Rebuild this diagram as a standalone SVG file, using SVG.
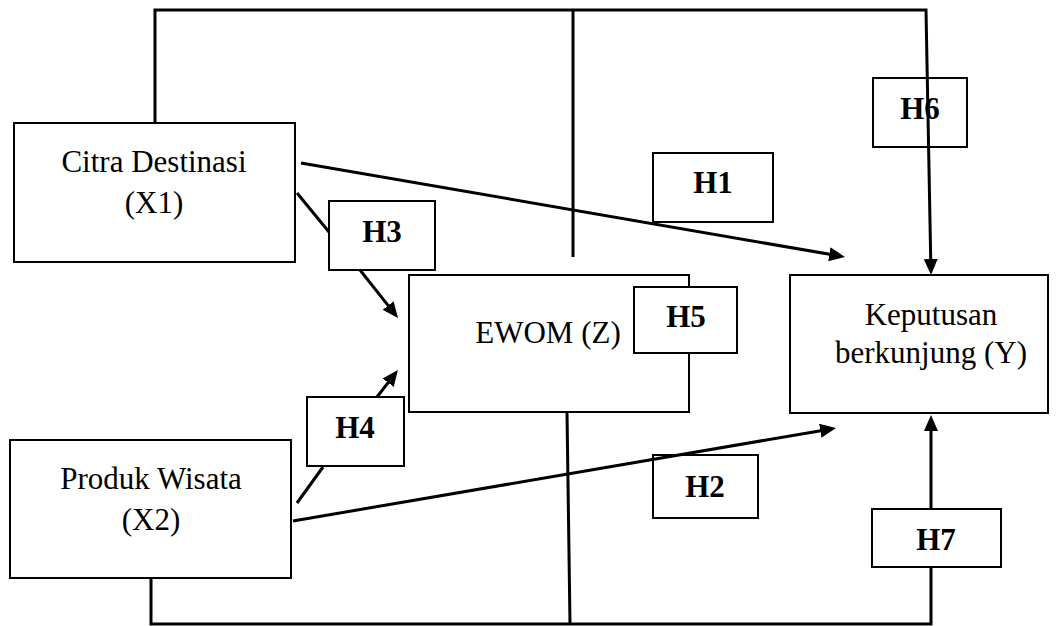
<svg xmlns="http://www.w3.org/2000/svg" width="1063" height="626" viewBox="0 0 1063 626">
<style>
.box{fill:#fff;stroke:#000;stroke-width:2}
.t{font-family:"Liberation Serif","Times New Roman",serif;font-size:31px;fill:#000;text-anchor:middle}
.h{font-weight:bold}
.c{fill:none;stroke:#000;stroke-width:3}
</style>
<defs>
<marker id="ah" markerUnits="userSpaceOnUse" markerWidth="16" markerHeight="14" refX="5" refY="7" orient="auto">
<path d="M0,0 L16,7 L0,14 z" fill="#000"/>
</marker>
</defs>
<rect width="1063" height="626" fill="#fff"/>
<g id="citra"><rect class="box" x="14" y="123" width="281" height="139"/><text class="t" x="154" y="172">Citra Destinasi</text><text class="t" x="154" y="213">(X1)</text></g>
<g id="produk"><rect class="box" x="10" y="440" width="281" height="138"/><text class="t" x="151" y="489">Produk Wisata</text><text class="t" x="151" y="530">(X2)</text></g>
<g id="ewom"><rect class="box" x="409" y="275" width="280" height="137"/><text class="t" x="548" y="343">EWOM (Z)</text></g>
<g id="keputusan"><rect class="box" x="790" y="275" width="258" height="138"/><text class="t" x="931" y="325">Keputusan</text><text class="t" x="931" y="363">berkunjung (Y)</text></g>
<g id="h1"><rect class="box" x="653" y="153" width="120" height="69"/><text class="t h" x="713" y="193">H1</text></g>
<g id="h2"><rect class="box" x="653" y="455" width="105" height="63"/><text class="t h" x="705" y="497">H2</text></g>
<g id="h3"><rect class="box" x="329" y="201" width="106" height="69"/><text class="t h" x="382" y="242">H3</text></g>
<g id="h4"><rect class="box" x="307" y="397" width="97" height="69"/><text class="t h" x="355" y="438">H4</text></g>
<g id="h5"><rect class="box" x="634" y="287" width="103" height="66"/><text class="t h" x="686" y="327">H5</text></g>
<g id="h6"><rect class="box" x="873" y="78" width="94" height="69"/><text class="t h" x="920" y="119">H6</text></g>
<g id="connectors">
<polyline class="c" points="155,123 155,10 926,10 930.8,264" marker-end="url(#ah)"/>
<line class="c" x1="573" y1="10" x2="573" y2="257"/>
<polyline class="c" points="151,578 151,624 931,624 931,426" marker-end="url(#ah)"/>
<line class="c" x1="567" y1="412" x2="570" y2="624"/>
<line class="c" x1="301" y1="163" x2="834.2" y2="255.1" marker-end="url(#ah)"/>
<line class="c" x1="293" y1="521" x2="825.2" y2="429.9" marker-end="url(#ah)"/>
<line class="c" x1="297" y1="193" x2="329" y2="232"/>
<line class="c" x1="360" y1="270" x2="391.2" y2="309.4" marker-end="url(#ah)"/>
<line class="c" x1="297" y1="503" x2="323" y2="467"/>
<line class="c" x1="377" y1="397" x2="391.2" y2="378.7" marker-end="url(#ah)"/>
</g>
<g id="h7"><rect class="box" x="872" y="509" width="129" height="58"/><text class="t h" x="936" y="550">H7</text></g>
</svg>
